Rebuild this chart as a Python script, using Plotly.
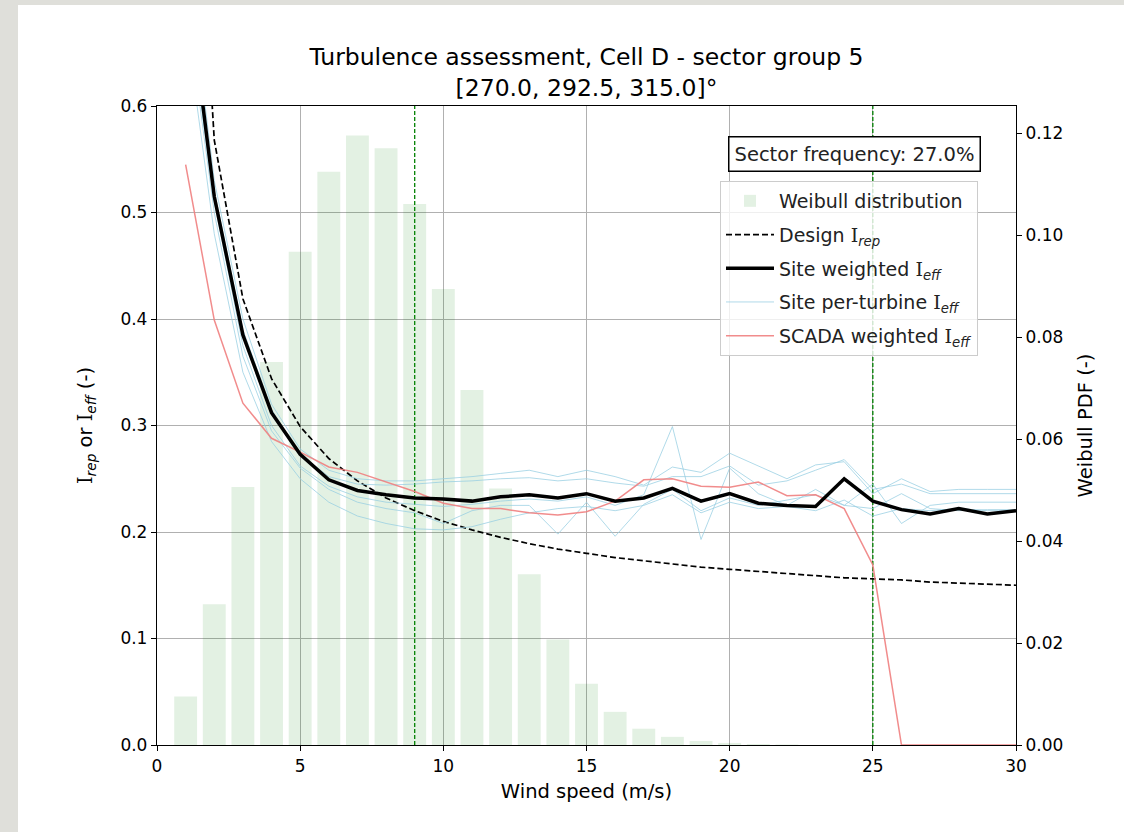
import plotly.graph_objects as go

# wind speed bins (m/s)
wind_speed = list(range(1, 31))

# Weibull PDF per bin (right axis)
weibull_speed = list(range(1, 23))
weibull_pdf = [0.0095, 0.0276, 0.0506, 0.0751, 0.0967, 0.1124, 0.1195, 0.1170, 0.1061, 0.0894,
               0.0696, 0.0503, 0.0335, 0.0207, 0.0120, 0.0065, 0.0032, 0.0016, 0.0008, 0.0004,
               0.0002, 0.0001]

# design representative turbulence
design_irep = [1.016, 0.568, 0.419, 0.344, 0.299, 0.269, 0.248, 0.232, 0.220, 0.210,
               0.202, 0.195, 0.189, 0.184, 0.180, 0.176, 0.173, 0.170, 0.167, 0.165,
               0.163, 0.161, 0.159, 0.157, 0.156, 0.155, 0.153, 0.152, 0.151, 0.150]

# site weighted effective turbulence
site_weighted = [0.730, 0.515, 0.385, 0.312, 0.273, 0.249, 0.239, 0.235, 0.232, 0.231,
                 0.229, 0.233, 0.235, 0.232, 0.236, 0.229, 0.232, 0.241, 0.229, 0.236,
                 0.227, 0.225, 0.224, 0.250, 0.229, 0.221, 0.217, 0.222, 0.217, 0.220]

# per-turbine effective turbulence
turbine_a = [0.750, 0.530, 0.400, 0.320, 0.278, 0.258, 0.250, 0.248, 0.248, 0.250,
             0.252, 0.255, 0.258, 0.252, 0.258, 0.252, 0.244, 0.261, 0.256, 0.274,
             0.262, 0.250, 0.263, 0.266, 0.236, 0.250, 0.238, 0.240, 0.240, 0.240]
turbine_b = [0.720, 0.520, 0.390, 0.315, 0.273, 0.252, 0.245, 0.244, 0.245, 0.247,
             0.248, 0.250, 0.251, 0.248, 0.250, 0.246, 0.243, 0.252, 0.252, 0.262,
             0.244, 0.248, 0.258, 0.268, 0.240, 0.245, 0.236, 0.236, 0.236, 0.236]
turbine_c = [0.680, 0.480, 0.350, 0.285, 0.250, 0.228, 0.215, 0.208, 0.203, 0.202,
             0.205, 0.212, 0.218, 0.222, 0.224, 0.220, 0.225, 0.235, 0.218, 0.228,
             0.222, 0.224, 0.220, 0.230, 0.215, 0.222, 0.220, 0.222, 0.220, 0.220]
turbine_d = [0.700, 0.500, 0.365, 0.295, 0.260, 0.240, 0.228, 0.222, 0.218, 0.208,
             0.220, 0.225, 0.225, 0.198, 0.228, 0.196, 0.226, 0.240, 0.220, 0.232,
             0.225, 0.230, 0.235, 0.225, 0.245, 0.208, 0.225, 0.228, 0.228, 0.228]
turbine_e = [0.710, 0.510, 0.375, 0.300, 0.262, 0.243, 0.233, 0.228, 0.226, 0.224,
             0.226, 0.229, 0.231, 0.229, 0.233, 0.225, 0.235, 0.299, 0.193, 0.260,
             0.236, 0.225, 0.240, 0.225, 0.222, 0.236, 0.222, 0.220, 0.221, 0.221]
per_turbine = [turbine_a, turbine_b, turbine_c, turbine_d, turbine_e]

# SCADA weighted effective turbulence
scada_weighted = [0.545, 0.399, 0.321, 0.288, 0.275, 0.261, 0.256, 0.247, 0.238, 0.227,
                  0.222, 0.222, 0.218, 0.216, 0.219, 0.229, 0.249, 0.250, 0.243, 0.242,
                  0.247, 0.234, 0.235, 0.222, 0.169, 0.0, 0.0, 0.0, 0.0, 0.0]

ref_speeds = [9, 25]
sector_freq = 27.0

FONT = "DejaVu Sans"
BG = "#dfdfda"
I = "<span style=\"font-family:'DejaVu Serif'\">I</span>"

fig = go.Figure()

fig.add_trace(go.Bar(
    x=weibull_speed, y=weibull_pdf, width=0.8, yaxis="y",
    marker=dict(color="rgba(0,128,0,0.11)", line=dict(width=0)),
    name="Weibull distribution", legendgroup="a", legendrank=1,
))

# reference wind speeds (vertical green dashed)
for v in ref_speeds:
    fig.add_trace(go.Scatter(
        x=[v, v], y=[0, 0.6], yaxis="y2", mode="lines", showlegend=False,
        line=dict(color="#008000", width=1.3, dash="4px,2px"), hoverinfo="skip",
        legendgroup="z", legendrank=9,
    ))

fig.add_trace(go.Scatter(
    x=wind_speed, y=design_irep, yaxis="y2", mode="lines",
    line=dict(color="black", width=1.7, dash="6px,3px"),
    name=f"Design {I}<sub><i>rep</i></sub>", legendgroup="b", legendrank=2,
))

for i, vals in enumerate(per_turbine):
    fig.add_trace(go.Scatter(
        x=wind_speed, y=vals, yaxis="y2", mode="lines",
        line=dict(color="rgba(150,205,225,0.75)", width=1),
        name=f"Site per-turbine {I}<sub><i>eff</i></sub>", legendgroup="d",
        showlegend=(i == 0), legendrank=4,
    ))

fig.add_trace(go.Scatter(
    x=wind_speed, y=scada_weighted, yaxis="y2", mode="lines",
    line=dict(color="rgba(240,128,128,0.9)", width=1.5),
    name=f"SCADA weighted {I}<sub><i>eff</i></sub>", legendgroup="e", legendrank=5,
))

fig.add_trace(go.Scatter(
    x=wind_speed, y=site_weighted, yaxis="y2", mode="lines",
    line=dict(color="black", width=3.5),
    name=f"Site weighted {I}<sub><i>eff</i></sub>", legendgroup="c", legendrank=3,
))

# white page panel on grey surround
fig.add_shape(type="rect", xref="paper", yref="paper", x0=-0.1618, x1=1.2, y0=-0.2, y1=1.158,
              fillcolor="white", line=dict(width=0), layer="below")

fig.add_annotation(xref="paper", yref="paper", x=(854 - 157) / 859, y=(745 - 154) / 639,
                   xanchor="center", yanchor="middle",
                   text=f"Sector frequency: {sector_freq:.1f}%", showarrow=False,
                   bordercolor="black", borderwidth=1.5, borderpad=5, bgcolor="white",
                   font=dict(family=FONT, size=19.5, color="#222"))

tick_font = dict(family=FONT, size=17, color="black")
label_font = dict(family=FONT, size=19.5, color="black")

fig.update_layout(
    width=1124, height=832,
    margin=dict(l=157, r=108, t=106, b=87),
    paper_bgcolor=BG, plot_bgcolor="white",
    barmode="overlay",
    font=dict(family=FONT, size=17, color="black"),
    title=dict(text="Turbulence assessment, Cell D - sector group 5<br>[270.0, 292.5, 315.0]°",
               x=(586.5 / 1124), xanchor="center", y=1 - 65 / 832, yanchor="middle",
               font=dict(family=FONT, size=23.5, color="black")),
    xaxis=dict(range=[0, 30], tickvals=[0, 5, 10, 15, 20, 25, 30], showgrid=True,
               gridcolor="#b0b0b0", gridwidth=1.2, showline=True, linecolor="black",
               linewidth=1.3, mirror=True, ticks="outside", ticklen=5, tickcolor="black",
               tickfont=tick_font, zeroline=False,
               title=dict(text="Wind speed (m/s)", font=label_font, standoff=9)),
    yaxis=dict(range=[0, 0.1253], tickvals=[0, 0.02, 0.04, 0.06, 0.08, 0.10, 0.12],
               tickformat=".2f", side="right", showgrid=False, showline=True,
               linecolor="black", linewidth=1.3, ticks="outside", ticklen=5,
               tickcolor="black", tickfont=tick_font, zeroline=False,
               title=dict(text="Weibull PDF (-)", font=label_font, standoff=15)),
    yaxis2=dict(range=[0, 0.6], tickvals=[0, 0.1, 0.2, 0.3, 0.4, 0.5, 0.6],
                tickformat=".1f", side="left", overlaying="y", showgrid=True,
                gridcolor="#b0b0b0", gridwidth=1.2, showline=True, linecolor="black",
                linewidth=1.3, ticks="outside", ticklen=5, tickcolor="black",
                tickfont=tick_font, zeroline=False,
                title=dict(text=f"{I}<sub><i>rep</i></sub> or {I}<sub><i>eff</i></sub> (-)",
                           font=label_font, standoff=22)),
    legend=dict(x=(720 - 157) / 859, y=(745 - 181) / 639, xanchor="left", yanchor="top",
                bgcolor="rgba(255,255,255,0.8)", bordercolor="#cccccc", borderwidth=1,
                font=dict(family=FONT, size=19, color="#222"), tracegroupgap=6,
                itemwidth=48, traceorder="grouped"),
)

fig.write_html("out.html", config={"displayModeBar": False},
               post_script=f"document.body.style.margin='0';document.body.style.background='{BG}';")
